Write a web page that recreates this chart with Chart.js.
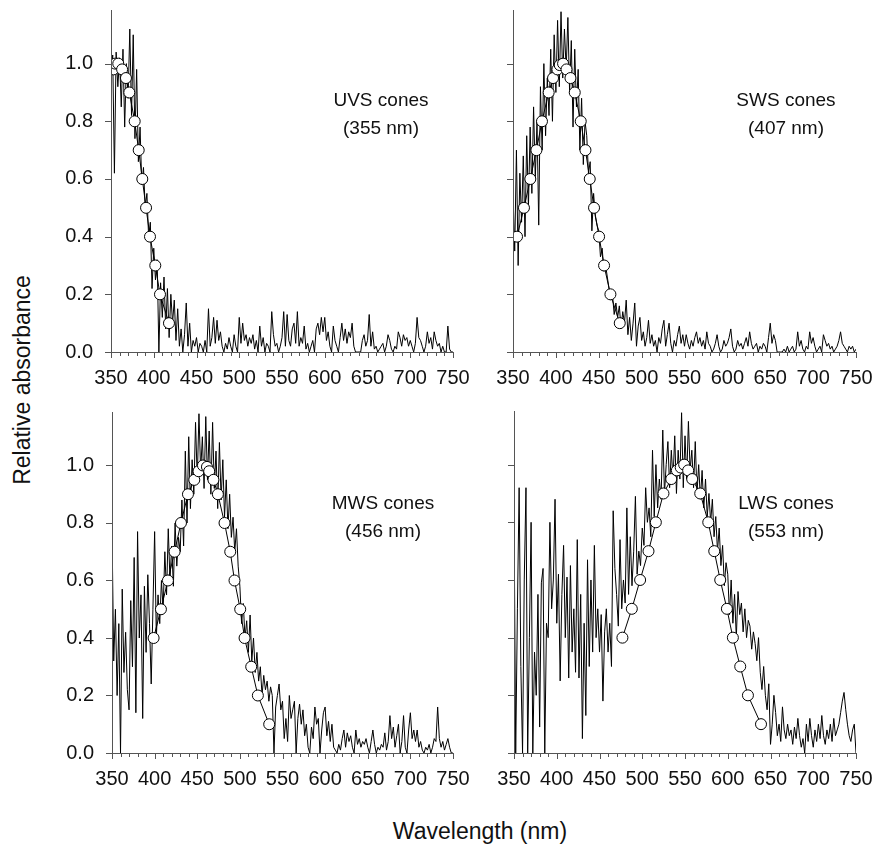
<!DOCTYPE html>
<html>
<head>
<meta charset="utf-8">
<script src="https://cdn.jsdelivr.net/npm/chart.js@4/dist/chart.umd.min.js"></script>
<style>
  body { margin: 0; background: #fff; }
  #wrap { position: relative; width: 877px; height: 849px; font-family: "Liberation Sans", Arial, sans-serif; color: #111; }
  canvas { position: absolute; }
  .note { position: absolute; width: 160px; margin-left: -80px; text-align: center; font-size: 19px; line-height: 28px; }
  .ytitle { position: absolute; left: 22px; top: 380px; font-size: 23px; white-space: nowrap; transform: translate(-50%, -50%) rotate(-90deg); }
  .xtitle { position: absolute; left: 480px; top: 831px; font-size: 23px; white-space: nowrap; transform: translate(-50%, -50%); }
</style>
</head>
<body>
<div id="wrap">
  <div class="ytitle">Relative absorbance</div>
  <div class="xtitle">Wavelength (nm)</div>
</div>
<script>
// wavelength grid of the measured traces (nm)
const WL_START = 350;
const WL_STEP = 2;
const xTicks = [350, 400, 450, 500, 550, 600, 650, 700, 750];
const yTicks = [0, 0.2, 0.4, 0.6, 0.8, 1.0];

// UVS cones, measured trace 350..750 nm
const uvsTrace = [
  0.95, 1.03, 0.62, 1.04, 0.92, 1.02, 0.85, 1.05, 0.78, 1.0, 0.88, 1.12, 0.82, 1.1, 0.74, 0.98, 0.66, 0.78, 0.58, 0.64, 0.5, 0.55, 0.4, 0.45, 0.22,
  0.36, 0.25, 0.32, 0.0, 0.24, 0.12, 0.26, 0.08, 0.22, 0.05, 0.2, 0.1, 0.18, 0.04, 0.15, 0.02, 0.08, 0.0, 0.06, 0.17, 0.02, 0.1, 0.0, 0.04, 0.02,
  0.05, 0.0, 0.03, 0.02, 0.0, 0.04, 0.0, 0.15, 0.02, 0.05, 0.12, 0.03, 0.11, 0.04, 0.07, 0.02, 0.0, 0.03, 0.01, 0.05, 0.02, 0.0, 0.06, 0.02, 0.0,
  0.12, 0.03, 0.1, 0.04, 0.06, 0.02, 0.05, 0.03, 0.06, 0.01, 0.04, 0.0, 0.09, 0.02, 0.05, 0.0, 0.03, 0.02, 0.0, 0.14, 0.06, 0.02, 0.03, 0.0, 0.02,
  0.05, 0.14, 0.02, 0.13, 0.04, 0.02, 0.08, 0.1, 0.03, 0.14, 0.02, 0.05, 0.03, 0.09, 0.01, 0.03, 0.0, 0.02, 0.04, 0.0, 0.08, 0.1, 0.06, 0.12, 0.07,
  0.12, 0.04, 0.07, 0.02, 0.0, 0.09, 0.04, 0.02, 0.0, 0.05, 0.1, 0.04, 0.08, 0.03, 0.07, 0.05, 0.1, 0.02, 0.0, 0.0, 0.0, 0.0, 0.04, 0.06, 0.02,
  0.04, 0.13, 0.02, 0.07, 0.01, 0.02, 0.0, 0.01, 0.02, 0.03, 0.0, 0.02, 0.06, 0.04, 0.01, 0.0, 0.02, 0.01, 0.07, 0.05, 0.02, 0.06, 0.04, 0.05, 0.02,
  0.04, 0.02, 0.0, 0.03, 0.12, 0.05, 0.04, 0.02, 0.0, 0.02, 0.07, 0.03, 0.05, 0.01, 0.07, 0.04, 0.02, 0.03, 0.0, 0.02, 0.0, 0.0, 0.09, 0.01, 0.0,
  0.0
];
const uvsTplX = [352.7, 355, 358.5, 363, 367.5, 371.4, 377.7, 382.4, 386.6, 391, 395.6, 401.8, 407.3, 417.8];
const uvsTplY = [0.98, 1.0, 1.0, 0.98, 0.95, 0.9, 0.8, 0.7, 0.6, 0.5, 0.4, 0.3, 0.2, 0.1];

// SWS cones
const swsTrace = [
  0.55, 0.35, 0.7, 0.3, 0.62, 0.45, 0.68, 0.4, 0.75, 0.5, 0.78, 0.55, 0.85, 0.6, 0.8, 0.44, 0.92, 0.7, 1.0, 0.75, 0.95, 0.82, 1.05, 0.8, 1.1,
  0.9, 1.15, 0.92, 1.18, 0.95, 1.12, 0.98, 1.16, 0.9, 1.08, 0.78, 1.05, 0.85, 0.98, 0.7, 0.88, 0.65, 0.8, 0.75, 0.62, 0.66, 0.42, 0.55, 0.47, 0.44,
  0.42, 0.33, 0.36, 0.28, 0.3, 0.26, 0.22, 0.18, 0.2, 0.13, 0.17, 0.12, 0.16, 0.08, 0.14, 0.1, 0.18, 0.06, 0.12, 0.04, 0.1, 0.17, 0.02, 0.09, 0.12,
  0.04, 0.07, 0.02, 0.05, 0.11, 0.03, 0.06, 0.02, 0.04, 0.0, 0.05, 0.03, 0.08, 0.11, 0.02, 0.06, 0.1, 0.03, 0.0, 0.04, 0.02, 0.06, 0.09, 0.03, 0.06,
  0.02, 0.06, 0.03, 0.01, 0.04, 0.02, 0.05, 0.07, 0.03, 0.05, 0.02, 0.04, 0.01, 0.07, 0.03, 0.02, 0.0, 0.01, 0.03, 0.06, 0.02, 0.0, 0.01, 0.04, 0.02,
  0.03, 0.05, 0.08, 0.02, 0.0, 0.01, 0.04, 0.02, 0.03, 0.01, 0.03, 0.05, 0.02, 0.07, 0.03, 0.01, 0.02, 0.03, 0.0, 0.02, 0.01, 0.03, 0.02, 0.0, 0.05,
  0.1, 0.03, 0.06, 0.04, 0.0, 0.0, 0.0, 0.0, 0.01, 0.0, 0.02, 0.0, 0.01, 0.02, 0.0, 0.01, 0.07, 0.02, 0.04, 0.01, 0.0, 0.02, 0.01, 0.07, 0.03,
  0.05, 0.02, 0.0, 0.01, 0.02, 0.0, 0.06, 0.04, 0.02, 0.03, 0.01, 0.02, 0.0, 0.01, 0.02, 0.04, 0.07, 0.03, 0.02, 0.01, 0.0, 0.02, 0.01, 0.02, 0.0,
  0.01
];
const swsTplX = [354.7, 362.8, 370.2, 377.3, 383.8, 391.6, 396.7, 401.8, 404.5, 408.4, 412.4, 417, 422, 429, 434.5, 439.5, 444.5, 450.4, 456.2, 463.6, 474.5];
const swsTplY = [0.4, 0.5, 0.6, 0.7, 0.8, 0.9, 0.95, 0.98, 0.995, 1.0, 0.98, 0.95, 0.9, 0.8, 0.7, 0.6, 0.5, 0.4, 0.3, 0.2, 0.1];

// MWS cones
const mwsTrace = [
  0.78, 0.32, 0.5, 0.2, 0.45, 0.0, 0.57, 0.28, 0.42, 0.22, 0.15, 0.53, 0.3, 0.68, 0.14, 0.77, 0.4, 0.55, 0.12, 0.58, 0.35, 0.62, 0.45, 0.24, 0.5,
  0.77, 0.4, 0.55, 0.45, 0.6, 0.5, 0.7, 0.55, 0.78, 0.6, 0.72, 0.58, 0.8, 0.65, 0.75, 0.7, 0.88, 0.72, 1.05, 0.8, 1.1, 0.85, 1.02, 0.9, 1.15,
  0.95, 1.18, 0.98, 1.1, 0.92, 1.17, 0.95, 1.12, 0.9, 1.15, 0.92, 1.05, 0.85, 1.08, 0.88, 1.02, 0.82, 0.95, 0.78, 0.9, 0.75, 0.82, 0.7, 0.78, 0.65,
  0.58, 0.45, 0.52, 0.4, 0.46, 0.35, 0.48, 0.32, 0.4, 0.28, 0.35, 0.25, 0.3, 0.2, 0.27, 0.22, 0.25, 0.18, 0.23, 0.2, 0.0, 0.16, 0.2, 0.24, 0.15,
  0.18, 0.05, 0.12, 0.04, 0.2, 0.12, 0.15, 0.18, 0.0, 0.12, 0.17, 0.1, 0.15, 0.06, 0.1, 0.02, 0.0, 0.09, 0.05, 0.16, 0.1, 0.12, 0.0, 0.08, 0.14,
  0.16, 0.06, 0.11, 0.04, 0.1, 0.02, 0.01, 0.0, 0.03, 0.01, 0.05, 0.08, 0.02, 0.07, 0.04, 0.06, 0.02, 0.0, 0.08, 0.03, 0.05, 0.02, 0.04, 0.03, 0.05,
  0.02, 0.0, 0.04, 0.08, 0.03, 0.0, 0.02, 0.01, 0.03, 0.02, 0.07, 0.01, 0.04, 0.13, 0.05, 0.09, 0.02, 0.06, 0.1, 0.0, 0.04, 0.13, 0.02, 0.0, 0.08,
  0.14, 0.05, 0.08, 0.04, 0.08, 0.02, 0.04, 0.01, 0.0, 0.02, 0.01, 0.03, 0.0, 0.02, 0.05, 0.04, 0.16, 0.05, 0.02, 0.04, 0.01, 0.03, 0.05, 0.02, 0.0,
  0.0
];
const mwsTplX = [398.8, 407.4, 415.6, 423.4, 430.9, 439.1, 446.5, 451.5, 456.7, 461.4, 464, 469, 474.2, 482, 488.7, 493.7, 500.4, 505.5, 513.3, 521.1, 534.4];
const mwsTplY = [0.4, 0.5, 0.6, 0.7, 0.8, 0.9, 0.95, 0.98, 1.0, 0.995, 0.98, 0.95, 0.9, 0.8, 0.7, 0.6, 0.5, 0.4, 0.3, 0.2, 0.1];

// LWS cones
const lwsTrace = [
  0.85, 0.0, 0.5, 0.92, 0.3, 0.0, 0.6, 0.92, 0.0, 0.4, 0.8, 0.0, 0.35, 0.2, 0.55, 0.09, 0.59, 0.64, 0.0, 0.45, 0.4, 0.8, 0.5, 0.6, 0.88,
  0.45, 0.62, 0.25, 0.55, 0.72, 0.4, 0.61, 0.26, 0.65, 0.35, 0.5, 0.28, 0.74, 0.26, 0.55, 0.05, 0.45, 0.13, 0.67, 0.3, 0.6, 0.35, 0.72, 0.4, 0.5,
  0.35, 0.48, 0.18, 0.42, 0.5, 0.35, 0.45, 0.3, 0.84, 0.64, 0.55, 0.44, 0.74, 0.5, 0.6, 0.52, 0.85, 0.55, 0.75, 0.58, 0.7, 0.89, 0.62, 0.7, 0.65,
  0.78, 0.72, 0.92, 0.8, 0.85, 0.75, 1.05, 0.82, 1.0, 0.85, 0.95, 0.88, 1.12, 0.9, 1.0, 1.08, 0.92, 1.05, 0.95, 1.1, 0.9, 1.05, 0.95, 1.18, 0.92,
  1.1, 0.95, 1.15, 0.98, 1.05, 0.92, 1.08, 0.9, 1.0, 0.88, 0.98, 0.85, 0.95, 0.82, 0.9, 0.8, 0.88, 0.75, 0.82, 0.7, 0.78, 0.65, 0.72, 0.58, 0.66,
  0.62, 0.48, 0.6, 0.45, 0.55, 0.4, 0.56, 0.48, 0.52, 0.42, 0.5, 0.4, 0.46, 0.44, 0.36, 0.42, 0.38, 0.32, 0.4, 0.28, 0.22, 0.3, 0.2, 0.15, 0.24,
  0.03, 0.1, 0.2, 0.14, 0.06, 0.1, 0.04, 0.16, 0.08, 0.05, 0.1, 0.06, 0.08, 0.03, 0.09, 0.05, 0.12, 0.06, 0.02, 0.05, 0.0, 0.1, 0.04, 0.12, 0.06,
  0.02, 0.08, 0.04, 0.1, 0.05, 0.13, 0.06, 0.03, 0.08, 0.05, 0.1, 0.04, 0.12, 0.06, 0.08, 0.1, 0.14, 0.18, 0.21, 0.15, 0.1, 0.06, 0.04, 0.08, 0.1,
  0.0
];
const lwsTplX = [476.8, 487.8, 497.5, 507.3, 515.9, 524.8, 533.9, 540.5, 545, 549, 553.7, 558.4, 567.8, 577.2, 584.2, 591.2, 599, 606, 614.6, 623.6, 638.9];
const lwsTplY = [0.4, 0.5, 0.6, 0.7, 0.8, 0.9, 0.95, 0.98, 0.99, 1.0, 0.98, 0.95, 0.9, 0.8, 0.7, 0.6, 0.5, 0.4, 0.3, 0.2, 0.1];

const panels = [
  { name: "UVS cones", peak: "(355 nm)", trace: uvsTrace, tplX: uvsTplX, tplY: uvsTplY, box: [111, 10, 453, 352], yLabels: true, note: [381, 86] },
  { name: "SWS cones", peak: "(407 nm)", trace: swsTrace, tplX: swsTplX, tplY: swsTplY, box: [513, 10, 856, 352], yLabels: false, note: [786, 86] },
  { name: "MWS cones", peak: "(456 nm)", trace: mwsTrace, tplX: mwsTplX, tplY: mwsTplY, box: [112, 412, 453, 753], yLabels: true, note: [383, 489] },
  { name: "LWS cones", peak: "(553 nm)", trace: lwsTrace, tplX: lwsTplX, tplY: lwsTplY, box: [514, 411, 856, 753], yLabels: false, note: [786, 489] },
];

const Y_MAX = 1.186;
const PAD_L = 60, PAD_T = 10, PAD_R = 25, PAD_B = 45;
const axisColor = "#555";
const tickFont = { family: "'Liberation Sans', Arial, sans-serif", size: 20 };

// axis lines and tick marks (major every 50 nm, minor every 10 nm)
const axisTicks = {
  id: "axisTicks",
  afterDraw(chart) {
    const { ctx, chartArea: a, scales } = chart;
    ctx.save();
    ctx.strokeStyle = axisColor;
    ctx.lineWidth = 1;
    ctx.beginPath();
    ctx.moveTo(a.left + 0.5, a.top);
    ctx.lineTo(a.left + 0.5, a.bottom + 0.5);
    ctx.lineTo(a.right, a.bottom + 0.5);
    yTicks.forEach((v) => {
      const y = Math.round(scales.y.getPixelForValue(v)) + 0.5;
      ctx.moveTo(a.left - 6, y);
      ctx.lineTo(a.left, y);
    });
    for (let w = 350; w <= 750; w += 10) {
      const x = Math.round(scales.x.getPixelForValue(w)) + 0.5;
      ctx.moveTo(x, a.bottom);
      ctx.lineTo(x, a.bottom + (w % 50 === 0 ? 6 : 4));
    }
    ctx.stroke();
    ctx.restore();
  },
};

// keep label overhang out of the layout so the plot box is exact
function fixedSize(prop, size) {
  return (s) => {
    s[prop] = size;
    s.paddingTop = 0;
    s.paddingBottom = 0;
    s.paddingLeft = 0;
    s.paddingRight = 0;
  };
}

const wrap = document.getElementById("wrap");

panels.forEach((p) => {
  const [l, t, r, b] = p.box;
  const canvas = document.createElement("canvas");
  const w = r - l + PAD_L + PAD_R;
  const h = b - t + PAD_T + PAD_B;
  canvas.width = w;
  canvas.height = h;
  canvas.style.left = l - PAD_L + "px";
  canvas.style.top = t - PAD_T + "px";
  canvas.style.width = w + "px";
  canvas.style.height = h + "px";
  wrap.appendChild(canvas);

  const note = document.createElement("div");
  note.className = "note";
  note.style.left = p.note[0] + "px";
  note.style.top = p.note[1] + "px";
  note.innerHTML = p.name + "<br>" + p.peak;
  wrap.appendChild(note);

  const traceData = p.trace.map((v, i) => ({ x: WL_START + i * WL_STEP, y: v }));
  const tplData = p.tplX.map((x, i) => ({ x: x, y: p.tplY[i] }));

  new Chart(canvas.getContext("2d"), {
    type: "line",
    data: {
      datasets: [
        {
          data: traceData,
          borderColor: "#000",
          borderWidth: 1,
          pointRadius: 0,
          tension: 0,
          order: 2,
        },
        {
          data: tplData,
          borderColor: "#000",
          borderWidth: 1,
          pointRadius: 5.5,
          pointBackgroundColor: "#fff",
          pointBorderColor: "#000",
          pointBorderWidth: 1,
          tension: 0,
          order: 1,
        },
      ],
    },
    options: {
      responsive: false,
      animation: false,
      devicePixelRatio: 1,
      layout: { padding: { left: 0, top: PAD_T, right: PAD_R, bottom: 0 } },
      plugins: { legend: { display: false }, tooltip: { enabled: false } },
      scales: {
        x: {
          type: "linear",
          min: 350,
          max: 750,
          afterFit: fixedSize("height", PAD_B),
          afterBuildTicks: (s) => { s.ticks = xTicks.map((v) => ({ value: v })); },
          grid: { display: false, drawTicks: false },
          border: { display: false },
          ticks: { padding: 14, color: "#111", font: tickFont, maxRotation: 0, autoSkip: false },
        },
        y: {
          type: "linear",
          min: 0,
          max: Y_MAX,
          afterFit: fixedSize("width", PAD_L),
          afterBuildTicks: (s) => { s.ticks = yTicks.map((v) => ({ value: v })); },
          grid: { display: false, drawTicks: false },
          border: { display: false },
          ticks: {
            display: p.yLabels,
            padding: 18,
            color: "#111",
            font: tickFont,
            callback: (v) => v.toFixed(1),
          },
        },
      },
    },
    plugins: [axisTicks],
  });
});
</script>
</body>
</html>
